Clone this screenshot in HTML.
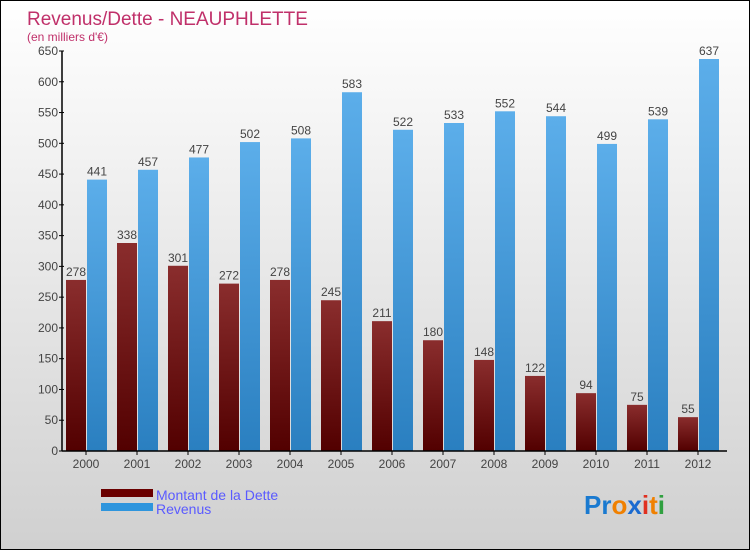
<!DOCTYPE html>
<html><head><meta charset="utf-8"><style>
body{margin:0}
#c{width:750px;height:550px;position:relative;box-sizing:border-box;border:1px solid #000;background:linear-gradient(#fff,#d0d0d0);font-family:"Liberation Sans",sans-serif;overflow:hidden}
</style></head><body>
<div id="c">
<svg id="s" width="750" height="550" style="position:absolute;left:0;top:0">
<defs>
<linearGradient id="gd" x1="0" y1="0" x2="0" y2="1"><stop offset="0" stop-color="#8a2d2d"/><stop offset="1" stop-color="#520000"/></linearGradient>
<linearGradient id="gr" x1="0" y1="0" x2="0" y2="1"><stop offset="0" stop-color="#5caeea"/><stop offset="1" stop-color="#2a7fc0"/></linearGradient>
</defs>
<text x="26" y="24" font-size="19" fill="#c0306a">Revenus/Dette - NEAUPHLETTE</text>
<text x="26" y="40" font-size="12" fill="#c0306a">(en milliers d'€)</text>
<g id="bars"></g>
<g id="axes"></g>
<rect x="100" y="488" width="52" height="8" fill="#6a0000"/>
<rect x="100" y="502" width="52" height="8" fill="#2e95dd"/>
<text x="155" y="499" font-size="14" fill="#5a5aff">Montant de la Dette</text>
<text x="155" y="513" font-size="14" fill="#5a5aff">Revenus</text>
<text x="583" y="513" font-size="26" font-weight="bold"><tspan fill="#1a7ad0">Pr</tspan><tspan fill="#f08000">o</tspan><tspan fill="#1a6ad0">x</tspan><tspan fill="#e03020">i</tspan><tspan fill="#f08000">t</tspan><tspan fill="#30a040">i</tspan></text>
</svg>
</div>
<script>
const years=["2000","2001","2002","2003","2004","2005","2006","2007","2008","2009","2010","2011","2012"];
const dette=[278,338,301,272,278,245,211,180,148,122,94,75,55];
const revenus=[441,457,477,502,508,583,522,533,552,544,499,539,637];
const ticks=[0,50,100,150,200,250,300,350,400,450,500,550,600,650];
const NS="http://www.w3.org/2000/svg";
const y0=450,ymax=650,h=400,x0=61,step=51;
function Y(v){return y0-v/ymax*h;}
function X(i){return x0+4+i*step;}
function mk(t,a,p){const e=document.createElementNS(NS,t);for(const k in a)e.setAttribute(k,a[k]);p.appendChild(e);return e;}
const bars=document.getElementById('bars'),axes=document.getElementById('axes');
years.forEach((yr,i)=>{
  const d=mk('rect',{x:X(i),y:Y(dette[i]),width:20,height:y0-Y(dette[i]),fill:'url(#gd)'},bars);
  
  
  const r=mk('rect',{x:X(i)+21,y:Y(revenus[i]),width:20,height:y0-Y(revenus[i]),fill:'url(#gr)'},bars);
  
  
  const t1=mk('text',{x:X(i)+10,y:Y(dette[i])-4,'font-size':12,fill:'#444','text-anchor':'middle'},bars);t1.textContent=dette[i];
  
  
  const t2=mk('text',{x:X(i)+31,y:Y(revenus[i])-4,'font-size':12,fill:'#444','text-anchor':'middle'},bars);t2.textContent=revenus[i];
  
  
  const tx=mk('text',{x:X(i)+20,y:467,'font-size':12,fill:'#444','text-anchor':'middle'},axes);tx.textContent=yr;
  
  
  mk('line',{x1:X(i)+20,x2:X(i)+20,y1:450,y2:454,stroke:'#000'},axes);
});
ticks.forEach(v=>{
  mk('line',{x1:x0-3,x2:x0+2,y1:Y(v),y2:Y(v),stroke:'#000'},axes);
  const t=mk('text',{x:x0-4,y:Y(v)+4,'font-size':12,fill:'#444','text-anchor':'end'},axes);t.textContent=v;
  
  
});
const ya=mk('line',{x1:x0,x2:x0,y1:50,y2:450,stroke:'#000','stroke-width':1.5},axes);


const xa=mk('line',{x1:x0,x2:x0+13*step+2,y1:450,y2:450,stroke:'#000','stroke-width':1.5},axes);


</script>
</body></html>
